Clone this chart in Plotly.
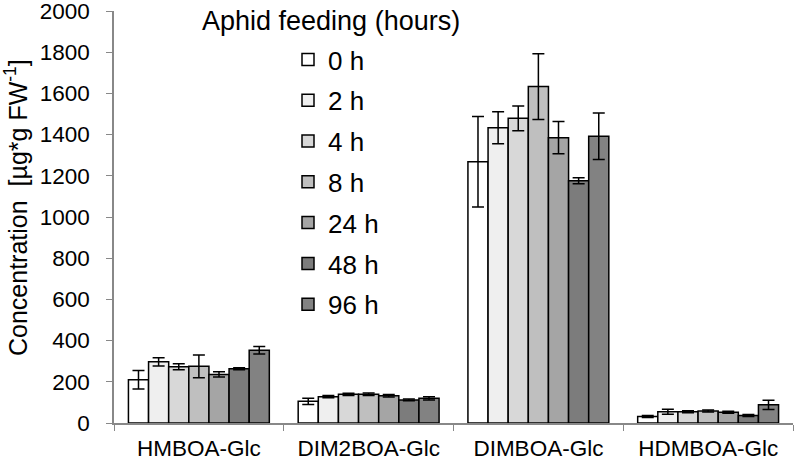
import plotly.graph_objects as go

categories = ["HMBOA-Glc", "DIM2BOA-Glc", "DIMBOA-Glc", "HDMBOA-Glc"]
series_names = ["0 h", "2 h", "4 h", "8 h", "24 h", "48 h", "96 h"]
colors = ["#ffffff", "#efefef", "#d8d8d8", "#bfbfbf", "#a5a5a5", "#7c7c7c", "#828282"]

# values per time point, for each compound (HMBOA, DIM2BOA, DIMBOA, HDMBOA)
v_0h = [210, 105, 1268, 32]
v_2h = [297, 128, 1433, 55]
v_4h = [273, 139, 1479, 55]
v_8h = [275, 140, 1633, 58]
v_24h = [236, 132, 1385, 52]
v_48h = [263, 112, 1176, 36]
v_96h = [353, 120, 1392, 88]

e_0h = [45, 15, 220, 5]
e_2h = [20, 6, 78, 12]
e_4h = [15, 6, 60, 5]
e_8h = [55, 6, 160, 5]
e_24h = [13, 6, 78, 5]
e_48h = [5, 4, 14, 5]
e_96h = [18, 8, 113, 23]

values = [v_0h, v_2h, v_4h, v_8h, v_24h, v_48h, v_96h]
errors = [e_0h, e_2h, e_4h, e_8h, e_24h, e_48h, e_96h]

y_ticks = [0, 200, 400, 600, 800, 1000, 1200, 1400, 1600, 1800, 2000]

FONT = "Liberation Sans, Arial, sans-serif"
W, H = 796, 461
ML, MR, MT, MB = 114, 3, 11, 38
PW, PH = W - ML - MR, H - MT - MB


def px_x(x):
    return (x - ML) / PW


def px_y(y):
    return (H - MB - y) / PH


fig = go.Figure()
for i, name in enumerate(series_names):
    fig.add_trace(go.Bar(
        x=categories, y=values[i], name=name,
        legendgroup=name,
        marker=dict(color=colors[i], line=dict(color="black", width=1.5)),
        error_y=dict(type="data", array=errors[i], visible=True,
                     color="black", thickness=1.5, width=6),
    ))

fig.update_layout(
    width=W, height=H,
    margin=dict(l=ML, r=MR, t=MT, b=MB),
    paper_bgcolor="white", plot_bgcolor="white",
    font=dict(family=FONT, size=22, color="black"),
    barmode="group", bargap=0.17, bargroupgap=0,
    showlegend=True,
    legend=dict(x=px_x(288), y=px_y(36), xanchor="left", yanchor="top",
                font=dict(size=26), tracegroupgap=4,
                bgcolor="rgba(0,0,0,0)", itemwidth=30),
    annotations=[
        dict(text="Aphid feeding (hours)", x=px_x(200), y=px_y(21),
             xref="paper", yref="paper", xanchor="left", yanchor="middle",
             showarrow=False, font=dict(size=27)),
        dict(text="Concentration  [µg*g FW<sup>-1</sup>]", x=px_x(16), y=px_y(208),
             xref="paper", yref="paper", xanchor="center", yanchor="middle",
             textangle=-90, showarrow=False, font=dict(size=25)),
    ],
)

fig.update_xaxes(
    type="category", tickson="boundaries", ticks="outside", ticklen=6,
    tickcolor="#888888", showline=True, linecolor="#888888", linewidth=1.5,
    showgrid=False, tickfont=dict(size=22.5), automargin=False,
    ticklabelstandoff=4, ticklabeloverflow="allow",
)
fig.update_yaxes(
    range=[0, 2000], tickvals=y_ticks, ticks="outside", ticklen=6,
    tickcolor="#888888", showline=True, linecolor="#888888", linewidth=1.5,
    showgrid=False, zeroline=False, tickfont=dict(size=22.5), automargin=False,
    ticklabelstandoff=12, ticklabeloverflow="allow",
)

fig.write_html("out.html", config={"displayModeBar": False},
               post_script="document.body.style.margin='0';")
